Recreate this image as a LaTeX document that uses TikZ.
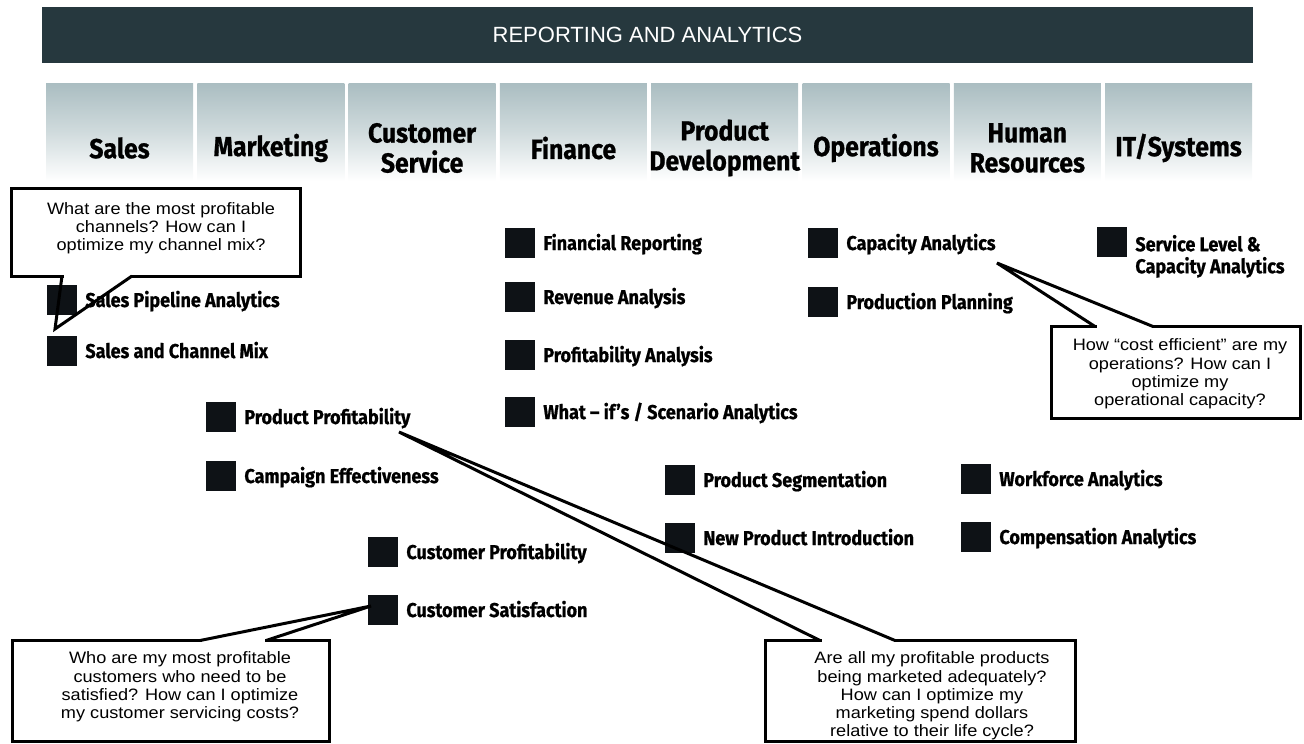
\documentclass[tikz,border=0pt]{standalone}
\usepackage{fontspec}
\setmainfont{Liberation Sans}
\newfontfamily\deptfont[FakeStretch=0.9,BoldFeatures={FakeBold=0.8}]{Fira Sans}
\newfontfamily\askfont[FakeStretch=1.1]{Liberation Sans}
\usetikzlibrary{positioning}

\definecolor{barcol}{RGB}{38,56,62}
\definecolor{tiletop}{RGB}{170,189,193}
\definecolor{tilemid}{RGB}{208,219,221}
\definecolor{sqcol}{RGB}{14,18,22}

\tikzset{
  bar/.style={fill=barcol,text=white,minimum width=1211pt,minimum height=56pt,
    font=\fontsize{22}{26}\selectfont},
  tile/.style={top color=tiletop,bottom color=white,middle color=tilemid,
    minimum width=147pt,minimum height=98pt,inner sep=0pt},
  dept/.style={font=\deptfont\bfseries\fontsize{27.5}{30}\selectfont,align=center,inner sep=0pt},
  sq/.style={fill=sqcol,minimum size=30pt,inner sep=0pt},
  lblfont/.style={font=\deptfont\bfseries\fontsize{20}{22}\selectfont,inner sep=0pt},
  lbl/.style={lblfont,text height=14pt,text depth=0pt},
  box/.style={draw=black,line width=3pt,fill=white,inner sep=0pt},
  ask/.style={font=\askfont\fontsize{16.5}{18.2}\selectfont,align=center,inner sep=0pt},
  gap/.style={white,line width=5pt,shorten <=1.5pt,shorten >=1.5pt},
  tail/.style={black,line width=3pt,line join=miter}
}

\begin{document}
\begin{tikzpicture}[x=1pt,y=-1pt]
\useasboundingbox (0,0) rectangle (1304,744);

\node[bar] (head) at (647.5,35) {REPORTING AND ANALYTICS};

\node[tile] (t1) at (119.5,132) {};
\node[tile] (t2) at (270.8,132) {};
\node[tile] (t3) at (422.1,132) {};
\node[tile] (t4) at (573.4,132) {};
\node[tile] (t5) at (724.7,132) {};
\node[tile] (t6) at (876.0,132) {};
\node[tile] (t7) at (1027.3,132) {};
\node[tile] (t8) at (1178.6,132) {};

\node[dept] (d1) at (119.5,148) {Sales};
\node[dept] (d2) at (270.8,148) {Marketing};
\node[dept] (d3) at (422.1,148) {Customer\\Service};
\node[dept] (d4) at (573.4,148) {Finance};
\node[dept] (d5) at (724.7,148) {Product\\Development};
\node[dept] (d6) at (876.0,148) {Operations};
\node[dept] (d7) at (1027.3,148) {Human\\Resources};
\node[dept] (d8) at (1178.6,148) {IT/Systems};

\node[sq] (sa1) at (62,300) {};
\node[lbl,right=8pt of sa1] (sa1t) {Sales Pipeline Analytics};
\node[sq] (sa2) at (62,351) {};
\node[lbl,right=8pt of sa2] (sa2t) {Sales and Channel Mix};

\node[sq] (mk1) at (221,417) {};
\node[lbl,right=8pt of mk1] (mk1t) {Product Profitability};
\node[sq] (mk2) at (221,476) {};
\node[lbl,right=8pt of mk2] (mk2t) {Campaign Effectiveness};

\node[sq] (cs1) at (383,552) {};
\node[lbl,right=8pt of cs1] (cs1t) {Customer Profitability};
\node[sq] (cs2) at (383,610) {};
\node[lbl,right=8pt of cs2] (cs2t) {Customer Satisfaction};

\node[sq] (fi1) at (520,243) {};
\node[lbl,right=8pt of fi1] (fi1t) {Financial Reporting};
\node[sq] (fi2) at (520,297) {};
\node[lbl,right=8pt of fi2] (fi2t) {Revenue Analysis};
\node[sq] (fi3) at (520,355) {};
\node[lbl,right=8pt of fi3] (fi3t) {Profitability Analysis};
\node[sq] (fi4) at (520,412) {};
\node[lbl,right=8pt of fi4] (fi4t) {What – if’s / Scenario Analytics};

\node[sq] (pd1) at (680,480) {};
\node[lbl,right=8pt of pd1] (pd1t) {Product Segmentation};
\node[sq] (pd2) at (680,538) {};
\node[lbl,right=8pt of pd2] (pd2t) {New Product Introduction};

\node[sq] (op1) at (823,243) {};
\node[lbl,right=8pt of op1] (op1t) {Capacity Analytics};
\node[sq] (op2) at (823,302) {};
\node[lbl,right=8pt of op2] (op2t) {Production Planning};

\node[sq] (hr1) at (976,479) {};
\node[lbl,right=8pt of hr1] (hr1t) {Workforce Analytics};
\node[sq] (hr2) at (976,537) {};
\node[lbl,right=8pt of hr2] (hr2t) {Compensation Analytics};

\node[sq] (it1) at (1112,242) {};
\node[lblfont,align=left,anchor=north west] (it1t) at ([xshift=8pt,yshift=-8pt]it1.north east)
  {Service Level \&\\Capacity Analytics};

\node[box,minimum width=289pt,minimum height=88pt] (qa) at (156,232) {};
\node[ask] (qat) at (161,228) {What are the most profitable\\channels? How can I\\optimize my channel mix?};
\coordinate (qa1) at (62,276);
\coordinate (qa2) at (132,276);
\coordinate (qatip) at (55,329);
\draw[gap] (qa1) -- (qa2);
\draw[tail] (qa1) -- (qatip) -- (qa2);

\node[box,minimum width=249pt,minimum height=92pt] (qb) at (1176,372.5) {};
\node[ask] (qbt) at (1180,374) {How “cost efficient” are my\\operations? How can I\\optimize my\\operational capacity?};
\coordinate (qb1) at (1095,326.5);
\coordinate (qb2) at (1153,326.5);
\coordinate (qbtip) at (997,263);
\draw[gap] (qb1) -- (qb2);
\draw[tail] (qb1) -- (qbtip) -- (qb2);

\node[box,minimum width=317pt,minimum height=101pt] (qc) at (171,691) {};
\node[ask] (qct) at (180,687) {Who are my most profitable\\customers who need to be\\satisfied? How can I optimize\\my customer servicing costs?};
\coordinate (qc1) at (200,640.5);
\coordinate (qc2) at (266,640.5);
\coordinate (qctip) at (371,606);
\draw[gap] (qc1) -- (qc2);
\draw[tail] (qc1) -- (qctip) -- (qc2);

\node[box,minimum width=310pt,minimum height=101pt] (qd) at (920,691) {};
\node[ask] (qdt) at (932,696) {Are all my profitable products\\being marketed adequately?\\How can I optimize my\\marketing spend dollars\\relative to their life cycle?};
\coordinate (qd1) at (820,640.5);
\coordinate (qd2) at (895,640.5);
\coordinate (qdtip) at (399,432);
\draw[gap] (qd1) -- (qd2);
\draw[tail] (qd1) -- (qdtip) -- (qd2);

\end{tikzpicture}
\end{document}
